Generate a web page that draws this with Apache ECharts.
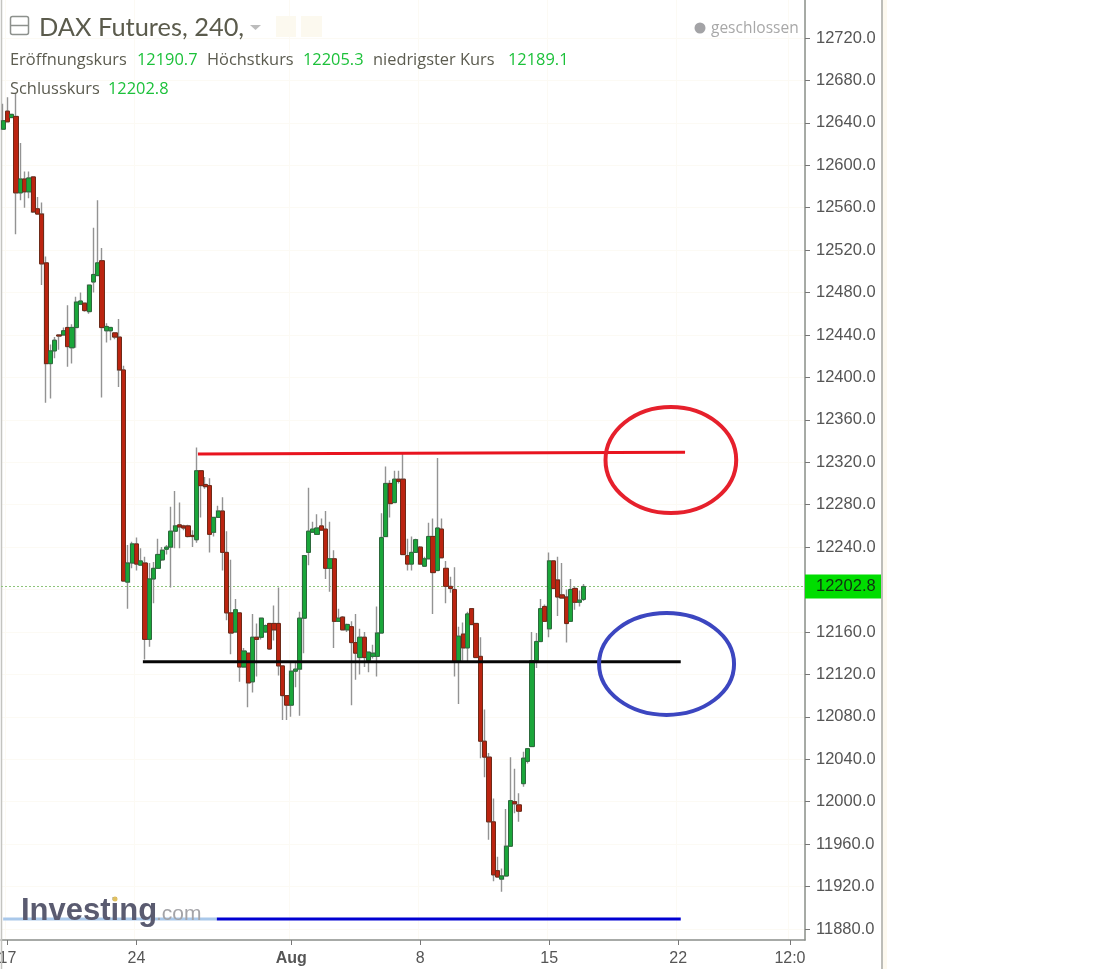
<!DOCTYPE html>
<html><head><meta charset="utf-8">
<style>html,body{margin:0;padding:0;background:#fff}#c{width:1111px;height:969px}</style>
<script src="https://cdn.jsdelivr.net/npm/echarts@6/dist/echarts.min.js"></script>
</head><body><div id="c"></div>
<script>
// [open, close, low, high]
const candles = [
[12634,12642,12634,12658],[12651,12641,12641,12664],[12645,12648,12645,12648],[12646,12574,12535,12668],
[12574,12587,12567,12621],[12587,12575,12560,12594],[12575,12588,12569,12594],[12589,12556,12555,12589],
[12559,12554,12554,12570],[12554,12507,12487,12565],[12508,12413,12376,12514],[12413,12425,12380,12431],
[12425,12435,12418,12438],[12440,12439,12426,12440],[12440,12444,12440,12447],[12447,12429,12410,12468],
[12428,12447,12413,12450],[12447,12471,12428,12476],[12469,12472,12469,12480],[12470,12463,12462,12470],
[12462,12487,12460,12487],[12490,12497,12480,12541],[12496,12508,12496,12567],[12510,12447,12381,12522],
[12444,12448,12433,12451],[12444,12447,12435,12447],[12442,12438,12436,12442],[12438,12407,12391,12455],
[12407,12208,12208,12411],[12207,12225,12182,12242],[12225,12243,12220,12245],[12243,12224,12218,12249],
[12223,12227,12223,12239],[12225,12153,12134,12231],[12153,12210,12146,12225],[12210,12220,12187,12226],
[12220,12233,12220,12248],[12228,12237,12227,12240],[12238,12240,12233,12242],[12240,12255,12202,12278],
[12255,12260,12239,12293],[12261,12259,12239,12282],[12260,12258,12256,12261],[12260,12250,12249,12261],
[12251,12250,12240,12256],[12247,12312,12244,12334],[12312,12298,12268,12312],[12299,12297,12295,12306],
[12298,12252,12235,12305],[12254,12268,12250,12268],[12268,12274,12268,12279],[12274,12235,12218,12287],
[12235,12178,12171,12255],[12178,12159,12139,12228],[12160,12181,12160,12191],[12178,12127,12113,12178],
[12127,12142,12127,12145],[12140,12112,12089,12140],[12113,12155,12103,12177],[12155,12153,12118,12168],
[12155,12173,12153,12173],[12160,12166,12159,12167],[12168,12144,12143,12168],[12168,12162,12152,12185],
[12168,12128,12119,12202],[12128,12100,12077,12128],[12100,12091,12077,12100],[12091,12123,12080,12131],
[12123,12125,12108,12131],[12125,12173,12081,12179],[12173,12232,12140,12232],[12235,12255,12223,12296],
[12254,12257,12254,12264],[12252,12258,12252,12271],[12260,12256,12256,12267],[12257,12220,12210,12274],
[12220,12229,12198,12264],[12229,12170,12145,12237],[12170,12173,12170,12182],[12174,12162,12162,12175],
[12162,12167,12160,12168],[12165,12150,12091,12170],[12150,12140,12115,12177],[12136,12155,12120,12163],
[12155,12136,12127,12160],[12133,12141,12122,12141],[12137,12140,12135,12148],[12137,12159,12118,12184],
[12159,12249,12159,12272],[12250,12300,12250,12316],[12300,12281,12268,12303],[12282,12304,12282,12312],
[12304,12302,12300,12312],[12304,12233,12233,12329],[12232,12224,12218,12248],[12224,12235,12218,12250],
[12235,12247,12235,12248],[12240,12224,12224,12241],[12222,12229,12222,12231],[12229,12250,12229,12263],
[12250,12216,12177,12267],[12218,12258,12218,12324],[12257,12230,12230,12267],[12220,12203,12187,12227],
[12203,12201,12197,12212],[12200,12132,12118,12221],[12132,12156,12092,12165],[12158,12145,12133,12169],
[12145,12177,12132,12179],[12182,12167,12167,12182],[12168,12136,12136,12168],[12137,12057,12041,12155],
[12057,12042,12023,12087],[12042,11981,11964,12046],[11981,11931,11925,12003],[11935,11929,11929,11948],
[11927,11930,11915,11937],[11930,11958,11930,11993],[11958,12001,11958,12042],[12000,11998,11989,12031],
[11997,11991,11981,12008],[12017,12041,12014,12047],[12038,12050,12036,12050],[12052,12133,12052,12160],
[12133,12151,12126,12159],[12151,12182,12151,12191],[12184,12170,12170,12186],[12163,12227,12155,12235],
[12227,12201,12201,12227],[12209,12193,12175,12231],[12195,12192,12192,12225],[12193,12168,12150,12200],
[12170,12200,12170,12210],[12201,12188,12181,12203],[12188,12190,12184,12199],[12190.7,12202.8,12189.1,12205.3]
];
const slotCount = 187;
const tickIndex = [1,31,67,97,127,157,183];
const tickText = ['17','24','Aug','8','15','22','12:0'];
const priceTicks = [11880,11920,11960,12000,12040,12080,12120,12160,12200,12240,12280,12320,12360,12400,12440,12480,12520,12560,12600,12640,12680,12720];
const priceTicksShown = priceTicks.filter(v => v !== 12200);
const lastPrice = 12202.8;
const redLine = [[45.3,12327.8],[158.6,12329.4]];
const blackLine = [[32.5,12132],[157.6,12132]];
const blueLineFaded = [[0,11889.4],[49.7,11889.4]];
const blueLine = [[49.7,11889.4],[157.6,11889.4]];
// centre slot, centre price, radius in slots, radius in price
const redRing = [[155.3,12322.1,15.2,50]];
const blueRing = [[154.3,12129.8,15.7,48]];
const headerFont = '"Open Sans",sans-serif';
const legendRow = [
  ['Eröffnungskurs',10,60,'#5c5c50'],['12190.7',137,60,'#1cc13a'],['Höchstkurs',207,60,'#5c5c50'],['12205.3',303,60,'#1cc13a'],
  ['niedrigster Kurs',373,60,'#5c5c50'],['12189.1',508,60,'#1cc13a'],['Schlusskurs',10,89,'#5c5c50'],['12202.8',108,89,'#1cc13a']
];

const categories = Array.from({length: slotCount}, (_, i) => {
  const k = tickIndex.indexOf(i);
  return k >= 0 ? tickText[k] : '';
});
const bodies = candles.map(c => [c[0], c[1], Math.min(c[0],c[1]), Math.max(c[0],c[1])]);
const isTick = i => tickIndex.indexOf(i) >= 0;

function ring(color){
  return (params, api) => {
    const c = api.coord([api.value(0), api.value(1)]);
    const s = api.size([api.value(2), api.value(3)]);
    return {type:'ellipse', shape:{cx:c[0],cy:c[1],rx:s[0],ry:s[1]},
      style:{fill:'none',stroke:color,lineWidth:4}};
  };
}
function seg(data,color,w,z){
  return {type:'line',xAxisIndex:1,data,symbol:'none',silent:true,z:z||5,clip:false,
    lineStyle:{color,width:w,cap:'butt'}};
}
const T = (text,x,y,size,fill,extra) => ({type:'text',x,y,z:20,silent:true,
  style:Object.assign({text,fontSize:size,fontFamily:headerFont,fill,textVerticalAlign:'middle'},extra||{})});

const chart = echarts.init(document.getElementById('c'),null,{renderer:'canvas'});
chart.setOption({
  animation:false,
  backgroundColor:'#fff',
  grid:{left:1,top:0,width:804,height:940,containLabel:false,outerBoundsMode:'none'},
  xAxis:[{
    type:'category',data:categories,boundaryGap:true,position:'bottom',
    axisLine:{show:true,onZero:false,lineStyle:{color:'#8a8f8a',width:1.5}},
    axisTick:{show:true,alignWithLabel:true,interval:i=>isTick(i),length:5,lineStyle:{color:'#777'}},
    axisLabel:{show:true,interval:i=>isTick(i),color:'#555',fontSize:16,fontFamily:'"Liberation Sans",Arial,sans-serif',margin:11,hideOverlap:false,
      formatter:v=>v==='Aug'?'{b|Aug}':v,rich:{b:{fontWeight:'bold',fontSize:16,color:'#555',fontFamily:'"Liberation Sans",Arial,sans-serif'}}},
    splitLine:{show:true,interval:i=>isTick(i),lineStyle:{color:'#fcfaf4',width:1}}
  },{type:'value',show:false,min:-0.5,max:slotCount-0.5,position:'top'}],
  yAxis:{
    type:'value',position:'right',min:11869.6,max:12755.8,scale:true,
    axisLine:{show:true,onZero:false,lineStyle:{color:'#8a8f8a',width:1.5}},
    axisTick:{show:true,length:5,lineStyle:{color:'#777'},customValues:priceTicks},
    axisLabel:{show:true,color:'#555',fontSize:16.5,fontFamily:'"Liberation Sans",Arial,sans-serif',margin:11,padding:[4,0,0,0],
      customValues:priceTicksShown,formatter:v=>Number(v).toFixed(1)},
    splitLine:{show:true,lineStyle:{color:'#fcfaf4',width:1}}
  },
  series:[
    {type:'candlestick',name:'wicks',data:candles,barWidth:3,z:2,silent:true,
      itemStyle:{color:'#999',color0:'#999',borderColor:'#939393',borderColor0:'#939393',borderWidth:1.4}},
    {type:'candlestick',name:'DAX Futures',data:bodies,barWidth:4.7,z:3,silent:true,
      itemStyle:{color:'#1aa63a',color0:'#bb2410',borderColor:'#2c6a3c',borderColor0:'#6e2a18',borderWidth:1},
      markLine:{silent:true,symbol:'none',animation:false,z:1,
        lineStyle:{color:'#8fc47a',type:[2,2],width:1},
        label:{show:true,position:'end',distance:0,formatter:p=>Number(p.value).toFixed(1),
          backgroundColor:'#00dd00',color:'#103010',fontSize:16.5,fontFamily:'"Liberation Sans",Arial,sans-serif',
          padding:[4,6,3,11],width:59,height:17,lineHeight:17},
        data:[{yAxis:lastPrice}]}},
    seg(redLine,'#e8141f',3),
    seg(blackLine,'#060606',3),
    seg(blueLineFaded,'#a9c8ea',3),
    seg(blueLine,'#0000d2',3),
    {type:'custom',xAxisIndex:1,data:redRing,renderItem:ring('#e6202c'),z:6,silent:true,clip:false,encode:{x:0,y:1}},
    {type:'custom',xAxisIndex:1,data:blueRing,renderItem:ring('#3c46c0'),z:6,silent:true,clip:false,encode:{x:0,y:1}}
  ],
  graphic:{elements:[
    {type:'line',z:1,silent:true,shape:{x1:1.5,y1:0,x2:1.5,y2:969},style:{stroke:'#c4c4c0',lineWidth:1.5}},
    {type:'line',z:1,silent:true,shape:{x1:882,y1:0,x2:882,y2:969},style:{stroke:'#bdbdb8',lineWidth:2}},
    {type:'rect',z:1,silent:true,shape:{x:883,y:0,width:4,height:969},style:{fill:'#fdf9ef'}},
    {type:'rect',z:20,silent:true,shape:{x:10.5,y:16.5,width:18,height:18,r:2},style:{fill:'#fff',stroke:'#8d918d',lineWidth:1.5}},
    {type:'line',z:21,silent:true,shape:{x1:11,y1:25.5,x2:28,y2:25.5},style:{stroke:'#8d918d',lineWidth:1.5}},
    T('DAX Futures, 240,',39,28,25.4,'#5b5b4c',{fontFamily:'"Lato",sans-serif'}),
    {type:'polygon',z:20,silent:true,shape:{points:[[250,25],[261,25],[255.5,30]]},style:{fill:'#bcbcbc'}},
    {type:'rect',z:20,silent:true,shape:{x:276,y:16,width:20,height:21},style:{fill:'#fcf9ef'}},
    {type:'rect',z:20,silent:true,shape:{x:301,y:16,width:21,height:21},style:{fill:'#fcf9ef'}},
    {type:'circle',z:20,silent:true,shape:{cx:700,cy:28,r:5.5},style:{fill:'#a3a3a6'}},
    T('geschlossen',711,29,15.5,'#a8a8a8'),
    ...legendRow.map(r => T(r[0],r[1],r[2],16.4,r[3])),
    T('Investing',21,911,31,'#5a5b70',{fontWeight:'bold',fontFamily:'"Liberation Sans",Arial,sans-serif'}),
    T('.com',156,914,21,'#a4a4a8',{fontFamily:'"Liberation Sans",Arial,sans-serif'}),
    {type:'circle',z:21,silent:true,shape:{cx:115,cy:899,r:2.5},style:{fill:'#e0c060'}}
  ]}
});
</script></body></html>
